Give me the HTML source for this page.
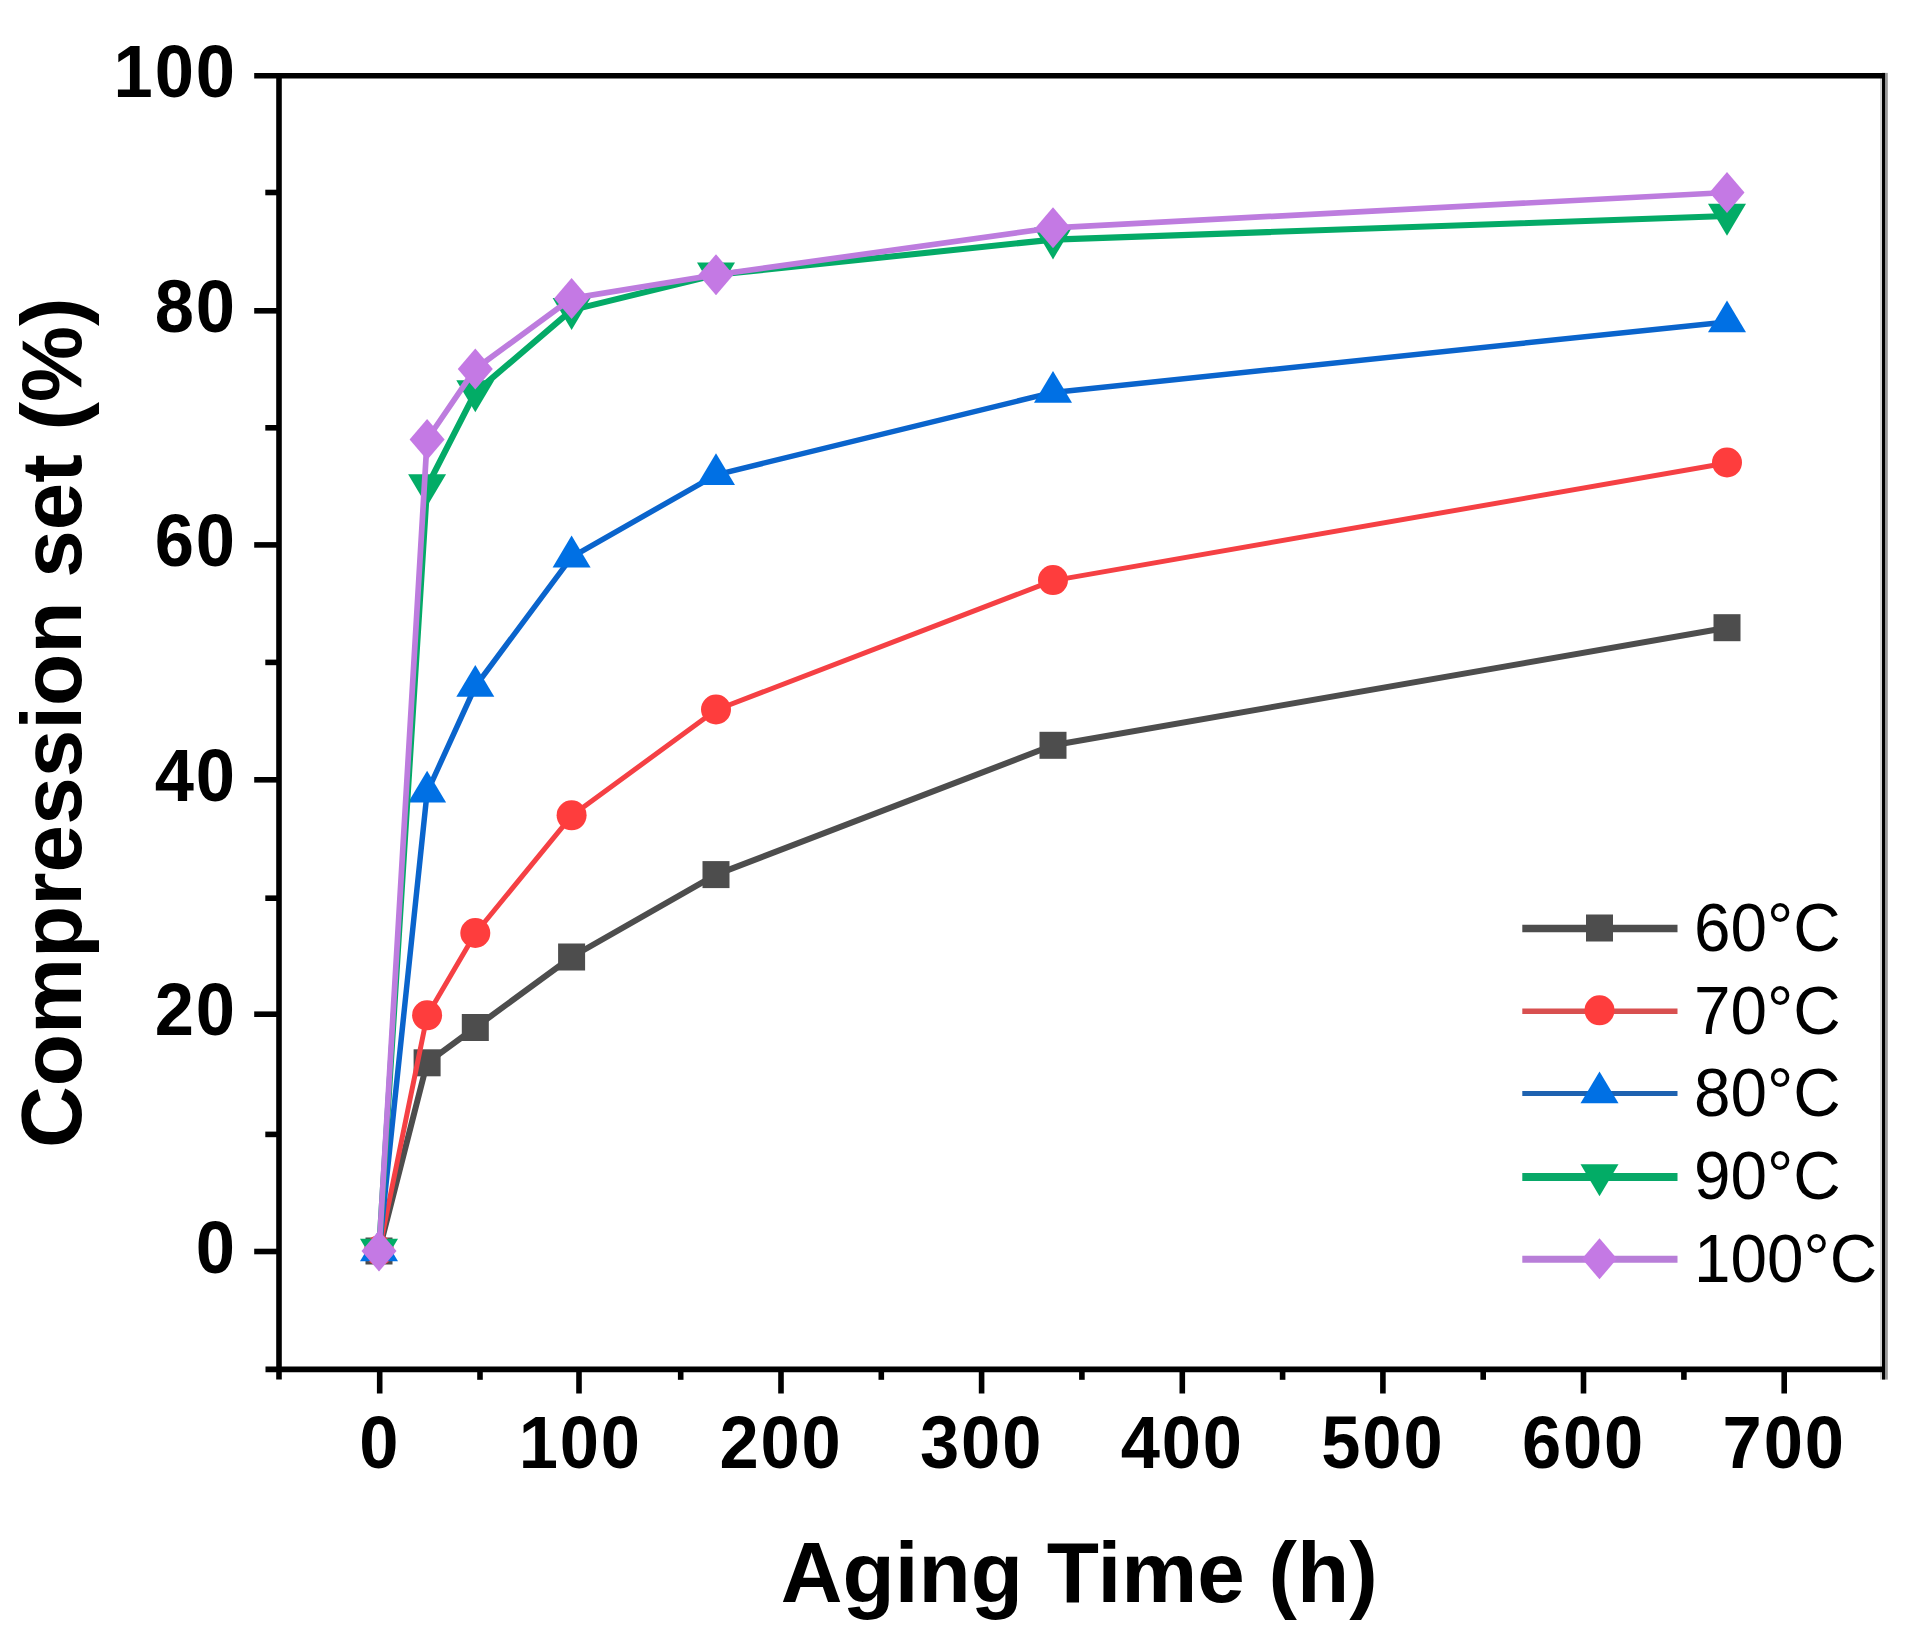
<!DOCTYPE html>
<html lang="en"><head><meta charset="utf-8"><title>Compression set vs Aging Time</title>
<style>
html,body{margin:0;padding:0;background:#fff;}
body{width:1917px;height:1637px;overflow:hidden;}
svg{display:block;filter:blur(0.4px);}
text{font-family:"Liberation Sans",sans-serif;fill:#000;}
.b{font-weight:bold;}
.tk{font-size:75px;font-weight:bold;letter-spacing:2px;}
.ti{font-size:85.5px;font-weight:bold;}
.ty{font-size:85.5px;font-weight:bold;}
.lg{font-size:68px;}
</style></head><body>
<svg width="1917" height="1637" viewBox="0 0 1917 1637">
<rect width="1917" height="1637" fill="#fff"/>
<polyline points="379.0,1251.0 427.1,1062.8 475.3,1027.5 571.6,957.0 716.0,874.6 1053.0,745.3 1727.0,627.7" fill="none" stroke="#4d4d4d" stroke-width="6.0" stroke-linejoin="round"/>
<rect x="365.5" y="1237.5" width="27" height="27" fill="#4d4d4d"/>
<rect x="413.6" y="1049.3" width="27" height="27" fill="#4d4d4d"/>
<rect x="461.8" y="1014.0" width="27" height="27" fill="#4d4d4d"/>
<rect x="558.1" y="943.5" width="27" height="27" fill="#4d4d4d"/>
<rect x="702.5" y="861.1" width="27" height="27" fill="#4d4d4d"/>
<rect x="1039.5" y="731.8" width="27" height="27" fill="#4d4d4d"/>
<rect x="1713.5" y="614.2" width="27" height="27" fill="#4d4d4d"/>
<polyline points="379.0,1251.0 427.1,1015.8 475.3,933.5 571.6,815.8 716.0,710.0 1053.0,580.6 1727.0,463.0" fill="none" stroke="#f54044" stroke-width="5.0" stroke-linejoin="round"/>
<circle cx="379.0" cy="1250.5" r="15" fill="#fe3d3d"/>
<circle cx="427.1" cy="1015.3" r="15" fill="#fe3d3d"/>
<circle cx="475.3" cy="933.0" r="15" fill="#fe3d3d"/>
<circle cx="571.6" cy="815.3" r="15" fill="#fe3d3d"/>
<circle cx="716.0" cy="709.5" r="15" fill="#fe3d3d"/>
<circle cx="1053.0" cy="580.1" r="15" fill="#fe3d3d"/>
<circle cx="1727.0" cy="462.5" r="15" fill="#fe3d3d"/>
<polyline points="379.0,1251.0 427.1,792.3 475.3,686.5 571.6,557.1 716.0,474.8 1053.0,392.4 1727.0,321.9" fill="none" stroke="#0a64cc" stroke-width="5.5" stroke-linejoin="round"/>
<polygon points="379.0,1229.5 398.0,1261.3 360.0,1261.3" fill="#0070e4"/>
<polygon points="427.1,770.8 446.1,802.6 408.1,802.6" fill="#0070e4"/>
<polygon points="475.3,665.0 494.3,696.8 456.3,696.8" fill="#0070e4"/>
<polygon points="571.6,535.6 590.6,567.4 552.6,567.4" fill="#0070e4"/>
<polygon points="716.0,453.3 735.0,485.1 697.0,485.1" fill="#0070e4"/>
<polygon points="1053.0,370.9 1072.0,402.7 1034.0,402.7" fill="#0070e4"/>
<polygon points="1727.0,300.4 1746.0,332.2 1708.0,332.2" fill="#0070e4"/>
<polyline points="379.0,1251.0 427.1,486.5 475.3,392.4 571.6,310.1 716.0,274.8 1053.0,239.6 1727.0,216.0" fill="none" stroke="#04aa67" stroke-width="6.1" stroke-linejoin="round"/>
<polygon points="379.0,1270.8 398.0,1238.8 360.0,1238.8" fill="#02ac66"/>
<polygon points="427.1,506.3 446.1,474.3 408.1,474.3" fill="#02ac66"/>
<polygon points="475.3,412.2 494.3,380.2 456.3,380.2" fill="#02ac66"/>
<polygon points="571.6,329.9 590.6,297.9 552.6,297.9" fill="#02ac66"/>
<polygon points="716.0,294.6 735.0,262.6 697.0,262.6" fill="#02ac66"/>
<polygon points="1053.0,259.4 1072.0,227.4 1034.0,227.4" fill="#02ac66"/>
<polygon points="1727.0,235.8 1746.0,203.8 1708.0,203.8" fill="#02ac66"/>
<polyline points="379.0,1251.0 427.1,439.5 475.3,368.9 571.6,298.4 716.0,274.8 1053.0,227.8 1727.0,192.5" fill="none" stroke="#bd7cde" stroke-width="5.7" stroke-linejoin="round"/>
<polygon points="379.0,1230.5 396.5,1251.0 379.0,1271.5 361.5,1251.0" fill="#c479e4"/>
<polygon points="427.1,419.0 444.6,439.5 427.1,460.0 409.6,439.5" fill="#c479e4"/>
<polygon points="475.3,348.4 492.8,368.9 475.3,389.4 457.8,368.9" fill="#c479e4"/>
<polygon points="571.6,277.9 589.1,298.4 571.6,318.9 554.1,298.4" fill="#c479e4"/>
<polygon points="716.0,254.3 733.5,274.8 716.0,295.3 698.5,274.8" fill="#c479e4"/>
<polygon points="1053.0,207.3 1070.5,227.8 1053.0,248.3 1035.5,227.8" fill="#c479e4"/>
<polygon points="1727.0,172.0 1744.5,192.5 1727.0,213.0 1709.5,192.5" fill="#c479e4"/>
<rect x="1880.0" y="75.7" width="2.2" height="1303.9" fill="#d4d4d4"/>
<g stroke="#000" stroke-width="5.6" fill="none" stroke-linecap="butt">
<line x1="254.2" y1="75.7" x2="1885.05" y2="75.7"/>
<line x1="279.0" y1="72.9" x2="279.0" y2="1379.6"/>
<line x1="265.5" y1="1369.4" x2="1885.05" y2="1369.4"/>
<line x1="254.2" y1="1251.5" x2="279.0" y2="1251.5"/>
<line x1="265.3" y1="1134.4" x2="279.0" y2="1134.4"/>
<line x1="254.2" y1="1014.2" x2="279.0" y2="1014.2"/>
<line x1="265.3" y1="898.2" x2="279.0" y2="898.2"/>
<line x1="254.2" y1="779.8" x2="279.0" y2="779.8"/>
<line x1="265.3" y1="662.4" x2="279.0" y2="662.4"/>
<line x1="254.2" y1="544.9" x2="279.0" y2="544.9"/>
<line x1="265.3" y1="427.8" x2="279.0" y2="427.8"/>
<line x1="254.2" y1="310.8" x2="279.0" y2="310.8"/>
<line x1="265.3" y1="192.5" x2="279.0" y2="192.5"/>
<line x1="379.7" y1="1369.4" x2="379.7" y2="1393.5"/>
<line x1="480.0" y1="1369.4" x2="480.0" y2="1379.8"/>
<line x1="579.0" y1="1369.4" x2="579.0" y2="1393.5"/>
<line x1="680.7" y1="1369.4" x2="680.7" y2="1379.8"/>
<line x1="781.0" y1="1369.4" x2="781.0" y2="1393.5"/>
<line x1="881.3" y1="1369.4" x2="881.3" y2="1379.8"/>
<line x1="981.6" y1="1369.4" x2="981.6" y2="1393.5"/>
<line x1="1081.9" y1="1369.4" x2="1081.9" y2="1379.8"/>
<line x1="1182.3" y1="1369.4" x2="1182.3" y2="1393.5"/>
<line x1="1282.6" y1="1369.4" x2="1282.6" y2="1379.8"/>
<line x1="1382.9" y1="1369.4" x2="1382.9" y2="1393.5"/>
<line x1="1483.2" y1="1369.4" x2="1483.2" y2="1379.8"/>
<line x1="1583.5" y1="1369.4" x2="1583.5" y2="1393.5"/>
<line x1="1683.9" y1="1369.4" x2="1683.9" y2="1379.8"/>
<line x1="1784.2" y1="1369.4" x2="1784.2" y2="1393.5"/>
</g>
<rect x="1885.0" y="72.9" width="2.8" height="1306.7" fill="#999"/>
<rect x="1882.0" y="72.9" width="3.05" height="1306.7" fill="#000"/>
<text class="tk" transform="translate(236.8,1272.7) scale(0.94,1)" text-anchor="end">0</text>
<text class="tk" transform="translate(236.8,1035.4) scale(0.94,1)" text-anchor="end">20</text>
<text class="tk" transform="translate(236.8,801.0) scale(0.94,1)" text-anchor="end">40</text>
<text class="tk" transform="translate(236.8,566.1) scale(0.94,1)" text-anchor="end">60</text>
<text class="tk" transform="translate(236.8,332.0) scale(0.94,1)" text-anchor="end">80</text>
<text class="tk" transform="translate(236.8,96.9) scale(0.94,1)" text-anchor="end">100</text>
<text class="tk" transform="translate(379.7,1468) scale(0.94,1)" text-anchor="middle">0</text>
<text class="tk" transform="translate(580.3,1468) scale(0.94,1)" text-anchor="middle">100</text>
<text class="tk" transform="translate(781.0,1468) scale(0.94,1)" text-anchor="middle">200</text>
<text class="tk" transform="translate(981.6,1468) scale(0.94,1)" text-anchor="middle">300</text>
<text class="tk" transform="translate(1182.3,1468) scale(0.94,1)" text-anchor="middle">400</text>
<text class="tk" transform="translate(1382.9,1468) scale(0.94,1)" text-anchor="middle">500</text>
<text class="tk" transform="translate(1583.5,1468) scale(0.94,1)" text-anchor="middle">600</text>
<text class="tk" transform="translate(1784.2,1468) scale(0.94,1)" text-anchor="middle">700</text>
<text class="ti" x="1079.3" y="1601.5" text-anchor="middle">Aging Time (h)</text>
<text class="ty" transform="translate(81,722.7) rotate(-90)" text-anchor="middle">Compression set (%)</text>
<line x1="1522.3" y1="928.5" x2="1677.5" y2="928.5" stroke="#4d4d4d" stroke-width="7.6"/>
<rect x="1586.0" y="914.5" width="27" height="27" fill="#4d4d4d"/>
<text class="lg" transform="translate(1694,950.8) scale(0.965,1)">60°C</text>
<line x1="1522.3" y1="1011.3" x2="1677.5" y2="1011.3" stroke="#d85050" stroke-width="5.4"/>
<circle cx="1599.5" cy="1010.3" r="15" fill="#fe3d3d"/>
<text class="lg" transform="translate(1694,1033.6) scale(0.965,1)">70°C</text>
<line x1="1522.3" y1="1093.5" x2="1677.5" y2="1093.5" stroke="#1e62b0" stroke-width="5.2"/>
<polygon points="1599.5,1071.5 1618.5,1103.3 1580.5,1103.3" fill="#0070e4"/>
<text class="lg" transform="translate(1694,1115.8) scale(0.965,1)">80°C</text>
<line x1="1522.3" y1="1177" x2="1677.5" y2="1177" stroke="#08a868" stroke-width="8"/>
<polygon points="1599.5,1196.3 1618.5,1164.3 1580.5,1164.3" fill="#02ac66"/>
<text class="lg" transform="translate(1694,1199.3) scale(0.965,1)">90°C</text>
<line x1="1522.3" y1="1259.3" x2="1677.5" y2="1259.3" stroke="#b87ed8" stroke-width="6.9"/>
<polygon points="1599.5,1238.3 1617.0,1258.8 1599.5,1279.3 1582.0,1258.8" fill="#c479e4"/>
<text class="lg" transform="translate(1694,1281.6) scale(0.965,1)">100°C</text>
</svg></body></html>
